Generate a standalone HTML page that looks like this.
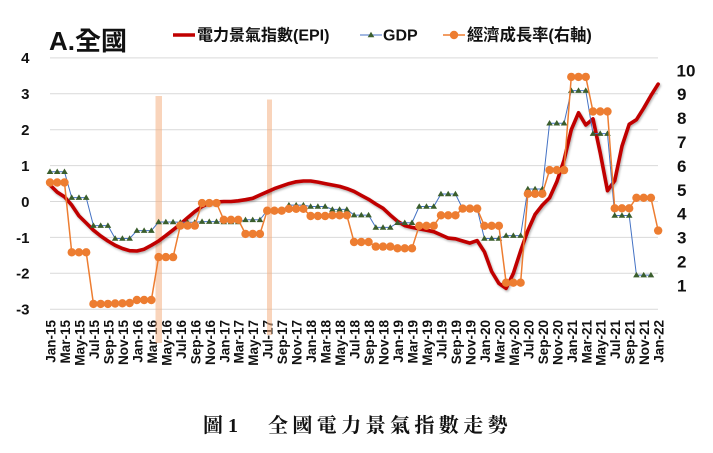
<!DOCTYPE html>
<html><head><meta charset="utf-8"><style>
html,body{margin:0;padding:0;background:#fff;}
svg{display:block;}
.xl text{font-family:"Liberation Sans",sans-serif;font-weight:bold;font-size:13.5px;fill:#111;}
</style></head><body>
<svg width="713" height="453" viewBox="0 0 713 453" xmlns="http://www.w3.org/2000/svg">
<defs>
<marker id="mc" viewBox="0 0 10 10" refX="5" refY="5" markerWidth="10" markerHeight="10" markerUnits="userSpaceOnUse"><circle cx="5" cy="5" r="4.2" fill="#ED7D31"/></marker>
<marker id="mt" viewBox="0 0 10 10" refX="5" refY="5" markerWidth="10" markerHeight="10" markerUnits="userSpaceOnUse"><polygon points="5,1.8 8.3,7.3 1.7,7.3" fill="#3A5E2C"/></marker>
<filter id="sh" x="-5%" y="-5%" width="110%" height="120%"><feDropShadow dx="1" dy="1.5" stdDeviation="1" flood-color="#000" flood-opacity="0.3"/></filter>
</defs>
<g stroke="#D9D9D9" stroke-width="1">
<line x1="50" y1="57.9" x2="658" y2="57.9"/>
<line x1="50" y1="93.8" x2="658" y2="93.8"/>
<line x1="50" y1="129.7" x2="658" y2="129.7"/>
<line x1="50" y1="165.6" x2="658" y2="165.6"/>
<line x1="50" y1="201.5" x2="658" y2="201.5"/>
<line x1="50" y1="237.4" x2="658" y2="237.4"/>
<line x1="50" y1="273.3" x2="658" y2="273.3"/>
<line x1="50" y1="309.2" x2="658" y2="309.2"/>
</g>
<g font-family="Liberation Sans, sans-serif" font-weight="bold" font-size="15" fill="#111" text-anchor="end">
<text x="29.5" y="63">4</text>
<text x="29.5" y="99">3</text>
<text x="29.5" y="135">2</text>
<text x="29.5" y="171">1</text>
<text x="29.5" y="207">0</text>
<text x="29.5" y="242.8">-1</text>
<text x="29.5" y="278.7">-2</text>
<text x="29.5" y="314.6">-3</text>
</g>
<g font-family="Liberation Sans, sans-serif" font-weight="bold" font-size="17" fill="#111">
<text x="676.5" y="76.3">10</text>
<text x="677" y="100.2">9</text>
<text x="677" y="124.1">8</text>
<text x="677" y="148">7</text>
<text x="677" y="171.9">6</text>
<text x="677" y="195.8">5</text>
<text x="677" y="219.7">4</text>
<text x="677" y="243.6">3</text>
<text x="677" y="267.5">2</text>
<text x="677" y="291.4">1</text>
</g>
<g class="xl" text-anchor="end" dominant-baseline="central">
<text transform="translate(51,320) rotate(-90)">Jan-15</text>
<text transform="translate(65.48,320) rotate(-90)">Mar-15</text>
<text transform="translate(79.96,320) rotate(-90)">May-15</text>
<text transform="translate(94.44,320) rotate(-90)">Jul-15</text>
<text transform="translate(108.92,320) rotate(-90)">Sep-15</text>
<text transform="translate(123.4,320) rotate(-90)">Nov-15</text>
<text transform="translate(137.88,320) rotate(-90)">Jan-16</text>
<text transform="translate(152.36,320) rotate(-90)">Mar-16</text>
<text transform="translate(166.84,320) rotate(-90)">May-16</text>
<text transform="translate(181.32,320) rotate(-90)">Jul-16</text>
<text transform="translate(195.8,320) rotate(-90)">Sep-16</text>
<text transform="translate(210.28,320) rotate(-90)">Nov-16</text>
<text transform="translate(224.76,320) rotate(-90)">Jan-17</text>
<text transform="translate(239.24,320) rotate(-90)">Mar-17</text>
<text transform="translate(253.72,320) rotate(-90)">May-17</text>
<text transform="translate(268.2,320) rotate(-90)">Jul-17</text>
<text transform="translate(282.68,320) rotate(-90)">Sep-17</text>
<text transform="translate(297.16,320) rotate(-90)">Nov-17</text>
<text transform="translate(311.64,320) rotate(-90)">Jan-18</text>
<text transform="translate(326.12,320) rotate(-90)">Mar-18</text>
<text transform="translate(340.6,320) rotate(-90)">May-18</text>
<text transform="translate(355.08,320) rotate(-90)">Jul-18</text>
<text transform="translate(369.56,320) rotate(-90)">Sep-18</text>
<text transform="translate(384.04,320) rotate(-90)">Nov-18</text>
<text transform="translate(398.52,320) rotate(-90)">Jan-19</text>
<text transform="translate(413,320) rotate(-90)">Mar-19</text>
<text transform="translate(427.48,320) rotate(-90)">May-19</text>
<text transform="translate(441.96,320) rotate(-90)">Jul-19</text>
<text transform="translate(456.44,320) rotate(-90)">Sep-19</text>
<text transform="translate(470.92,320) rotate(-90)">Nov-19</text>
<text transform="translate(485.4,320) rotate(-90)">Jan-20</text>
<text transform="translate(499.88,320) rotate(-90)">Mar-20</text>
<text transform="translate(514.36,320) rotate(-90)">May-20</text>
<text transform="translate(528.84,320) rotate(-90)">Jul-20</text>
<text transform="translate(543.32,320) rotate(-90)">Sep-20</text>
<text transform="translate(557.8,320) rotate(-90)">Nov-20</text>
<text transform="translate(572.28,320) rotate(-90)">Jan-21</text>
<text transform="translate(586.76,320) rotate(-90)">Mar-21</text>
<text transform="translate(601.24,320) rotate(-90)">May-21</text>
<text transform="translate(615.72,320) rotate(-90)">Jul-21</text>
<text transform="translate(630.2,320) rotate(-90)">Sep-21</text>
<text transform="translate(644.68,320) rotate(-90)">Nov-21</text>
<text transform="translate(659.16,320) rotate(-90)">Jan-22</text>
</g>
<rect x="155.5" y="96" width="6.5" height="247" fill="#F4B183" opacity="0.55"/>
<rect x="267" y="99.5" width="5" height="235.5" fill="#F4B183" opacity="0.55"/>
<polyline fill="none" stroke="#C00000" stroke-width="3.6" stroke-linejoin="round" stroke-linecap="round" filter="url(#sh)" points="50,185 57.24,192.2 64.48,196.8 71.72,205.1 78.96,215.9 86.2,223 93.44,230.2 100.68,236 107.92,241 115.16,245.3 122.4,248.5 129.64,250.7 136.88,251 144.12,249.2 151.36,245.3 158.6,241 165.84,235.6 173.08,229.9 180.32,224.1 187.56,217.7 194.8,211.6 202.04,206.5 209.28,203.3 216.52,201.9 223.76,201.5 231,201.5 238.24,200.8 245.48,199.7 252.72,198.3 259.96,195 267.2,191.8 274.44,188.6 281.68,186.1 288.92,183.6 296.16,181.8 303.4,181 310.64,181 317.88,182.1 325.12,183.6 332.36,185 339.6,186.4 346.84,188.6 354.08,191.4 361.32,195.4 368.56,199.3 375.8,204 383.04,208.3 390.28,215.1 397.52,221.3 404.76,225.6 412,227.4 419.24,228.8 426.48,230.2 433.72,231.7 440.96,234.9 448.2,238.1 455.44,238.8 462.68,241 469.92,243.1 477.16,240.6 484.4,251.8 491.64,271.5 498.88,283.4 506.12,288.4 513.36,273.3 520.6,251 527.84,230.6 535.08,214.4 542.32,205.1 549.56,197.9 556.8,181.8 564.04,160.2 571.28,129.7 578.52,112.8 585.76,125 593,118.9 600.24,153 607.48,190.7 614.72,180.7 621.96,146.2 629.2,124.3 636.44,119.7 643.68,108.2 650.92,95.6 658.16,84.1"/>
<polyline fill="none" stroke="#4472C4" stroke-width="1" marker-start="url(#mt)" marker-mid="url(#mt)" marker-end="url(#mt)" points="50,171.7 57.24,171.7 64.48,171.7 71.72,197.6 78.96,197.6 86.2,197.6 93.44,225.6 100.68,225.6 107.92,225.6 115.16,238.5 122.4,238.5 129.64,238.5 136.88,230.6 144.12,230.6 151.36,230.6 158.6,222 165.84,222 173.08,222 180.32,222.3 187.56,222.3 194.8,222.3 202.04,221.6 209.28,221.6 216.52,221.6 223.76,222 231,222 238.24,222 245.48,219.8 252.72,219.8 259.96,219.8 267.2,210.5 274.44,210.5 281.68,210.5 288.92,205.1 296.16,205.1 303.4,205.1 310.64,206.5 317.88,206.5 325.12,206.5 332.36,209.4 339.6,209.4 346.84,209.4 354.08,215.1 361.32,215.1 368.56,215.1 375.8,227.4 383.04,227.4 390.28,227.4 397.52,222.7 404.76,222.7 412,222.7 419.24,206.5 426.48,206.5 433.72,206.5 440.96,194 448.2,194 455.44,194 462.68,208.7 469.92,208.7 477.16,208.7 484.4,238.5 491.64,238.5 498.88,238.5 506.12,235.6 513.36,235.6 520.6,235.6 527.84,189 535.08,189 542.32,189 549.56,123.2 556.8,123.2 564.04,123.2 571.28,90.6 578.52,90.6 585.76,90.6 593,133.6 600.24,133.6 607.48,133.6 614.72,215.5 621.96,215.5 629.2,215.5 636.44,275.1 643.68,275.1 650.92,275.1"/>
<polyline fill="none" stroke="#ED7D31" stroke-width="1.5" marker-start="url(#mc)" marker-mid="url(#mc)" marker-end="url(#mc)" points="50,182.5 57.24,182.5 64.48,182.5 71.72,252.3 78.96,252.3 86.2,252.3 93.44,303.9 100.68,303.9 107.92,303.9 115.16,303.5 122.4,303.3 129.64,303 136.88,300 144.12,300 151.36,300 158.6,257.1 165.84,257.1 173.08,257.1 180.32,225.6 187.56,225.6 194.8,225.6 202.04,203.1 209.28,203.1 216.52,203.1 223.76,219.8 231,219.8 238.24,219.8 245.48,233.9 252.72,233.9 259.96,233.9 267.2,210.7 274.44,210.7 281.68,210.7 288.92,208.8 296.16,208.8 303.4,208.8 310.64,216 317.88,216 325.12,216 332.36,215.3 339.6,215.3 346.84,215.3 354.08,242 361.32,242 368.56,242 375.8,246.6 383.04,246.6 390.28,246.6 397.52,248.3 404.76,248.3 412,248.3 419.24,225.8 426.48,225.8 433.72,225.8 440.96,215.3 448.2,215.3 455.44,215.3 462.68,208.6 469.92,208.6 477.16,208.6 484.4,225.8 491.64,225.8 498.88,225.8 506.12,282.7 513.36,282.7 520.6,282.7 527.84,193.8 535.08,193.8 542.32,193.8 549.56,170.1 556.8,170.1 564.04,170.1 571.28,76.9 578.52,76.9 585.76,76.9 593,111.5 600.24,111.5 607.48,111.5 614.72,208.3 621.96,208.3 629.2,208.3 636.44,197.8 643.68,197.8 650.92,197.8 658.16,230.6"/>
<text x="49" y="50" font-family="Liberation Sans, 'Noto Sans CJK TC', sans-serif" font-weight="bold" font-size="26" fill="#111">A.全國</text>
<line x1="173" y1="35" x2="195" y2="35" stroke="#C00000" stroke-width="3.6"/>
<text x="197" y="40.5" font-family="Liberation Sans, 'Noto Sans CJK TC', sans-serif" font-weight="bold" font-size="16" fill="#111">電力景氣指數(EPI)</text>
<line x1="360" y1="35" x2="382" y2="35" stroke="#4472C4" stroke-width="1"/>
<polygon points="371,31.8 374.3,37.3 367.7,37.3" fill="#3A5E2C"/>
<text x="383" y="40.5" font-family="Liberation Sans, sans-serif" font-weight="bold" font-size="16" fill="#111">GDP</text>
<line x1="443" y1="35" x2="465" y2="35" stroke="#ED7D31" stroke-width="1.5"/>
<circle cx="454" cy="35" r="4.2" fill="#ED7D31"/>
<text x="467" y="40.5" font-family="Liberation Sans, 'Noto Sans CJK TC', sans-serif" font-weight="bold" font-size="16.3" fill="#111">經濟成長率(右軸)</text>
<g font-family="'Liberation Serif', 'Noto Serif CJK SC', serif" font-weight="bold" font-size="20" fill="#111">
<text x="203" y="432">圖</text>
<text x="228" y="432">1</text>
<text x="268" y="432" letter-spacing="4.4">全國電力景氣指數走勢</text>
</g>
</svg>
</body></html>
